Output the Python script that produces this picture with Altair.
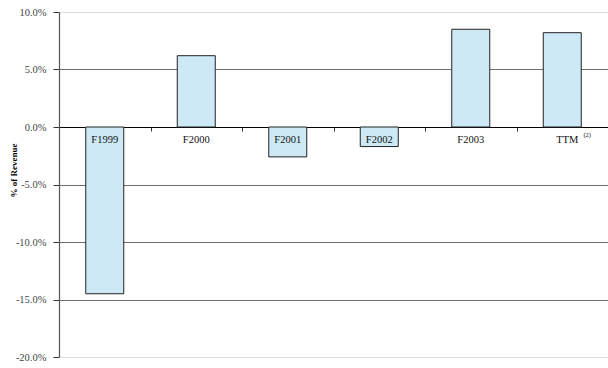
import altair as alt
import pandas as pd

categories = ["F1999", "F2000", "F2001", "F2002", "F2003", "TTM"]
values = [-14.5, 6.2, -2.6, -1.7, 8.5, 8.2]
y_ticks = [10, 5, 0, -5, -10, -15, -20]

df = pd.DataFrame({"cat": categories, "val": values})
main_lab = pd.DataFrame({"cat": categories, "txt": categories,
                         "shift": [0, 0, 0, 0, 0, 5]})
sup = pd.DataFrame({"cat": ["TTM"], "txt": ["(2)"]})

SERIF = "Liberation Serif"

xenc = alt.X("cat:N", sort=categories,
             scale=alt.Scale(paddingInner=0, paddingOuter=0),
             axis=alt.Axis(orient="bottom", offset=-230, labels=False, title=None,
                           domainColor="#000", domainWidth=1, tickColor="#333",
                           tickSize=4, tickBand="extent", grid=False))

yscale = alt.Scale(domain=[-20, 10], nice=False)

bars = alt.Chart(df).mark_bar(size=38, fill="#cce9f5", stroke="#222", strokeWidth=1).encode(
    x=xenc,
    y=alt.Y("val:Q", scale=yscale,
            axis=alt.Axis(values=y_ticks, title="% of Revenue",
                          labelExpr="replace(format(datum.value, '.1f'), '\u2212', '-') + '%'",
                          labelFont=SERIF, labelFontSize=10.5, labelColor="#444",
                          labelPadding=7, tickSize=6, tickColor="#333",
                          domainColor="#555", domainWidth=1.2,
                          titleFont=SERIF, titleFontSize=9, titleFontWeight="bold",
                          titleColor="#000", titleY=158, titleX=-41, titleAngle=-90,
                          grid=True, gridWidth=1,
                          gridColor={"condition": {"test": "datum.value == 10 || datum.value == -20", "value": "#dddddd"},
                                     "value": "#6e6e6e"})),
    y2=alt.datum(0),
)

labels = alt.Chart(df[df.cat != "TTM"]).mark_text(font=SERIF, fontSize=10.5, color="#111", baseline="top", dy=8).encode(
    x=alt.X("cat:N", sort=categories),
    y=alt.datum(0),
    text="cat:N",
)

ttm = alt.Chart(df[df.cat == "TTM"]).mark_text(font=SERIF, fontSize=10.5, color="#111", baseline="top", dy=8, dx=5).encode(
    x=alt.X("cat:N", sort=categories),
    y=alt.datum(0),
    text="cat:N",
)

suplab = alt.Chart(sup).mark_text(font=SERIF, fontSize=6.5, color="#111", baseline="top", dx=25, dy=5).encode(
    x=alt.X("cat:N", sort=categories),
    y=alt.datum(0),
    text="txt:N",
)

chart = alt.layer(bars, labels, ttm, suplab).properties(
    width=549, height=345,
    autosize=alt.AutoSizeParams(type="none"),
    padding={"left": 59, "top": 12, "right": 0, "bottom": 11},
).configure_view(stroke=None).configure(background="white")

chart.save("out.html", embed_options={"renderer": "svg", "actions": False})
